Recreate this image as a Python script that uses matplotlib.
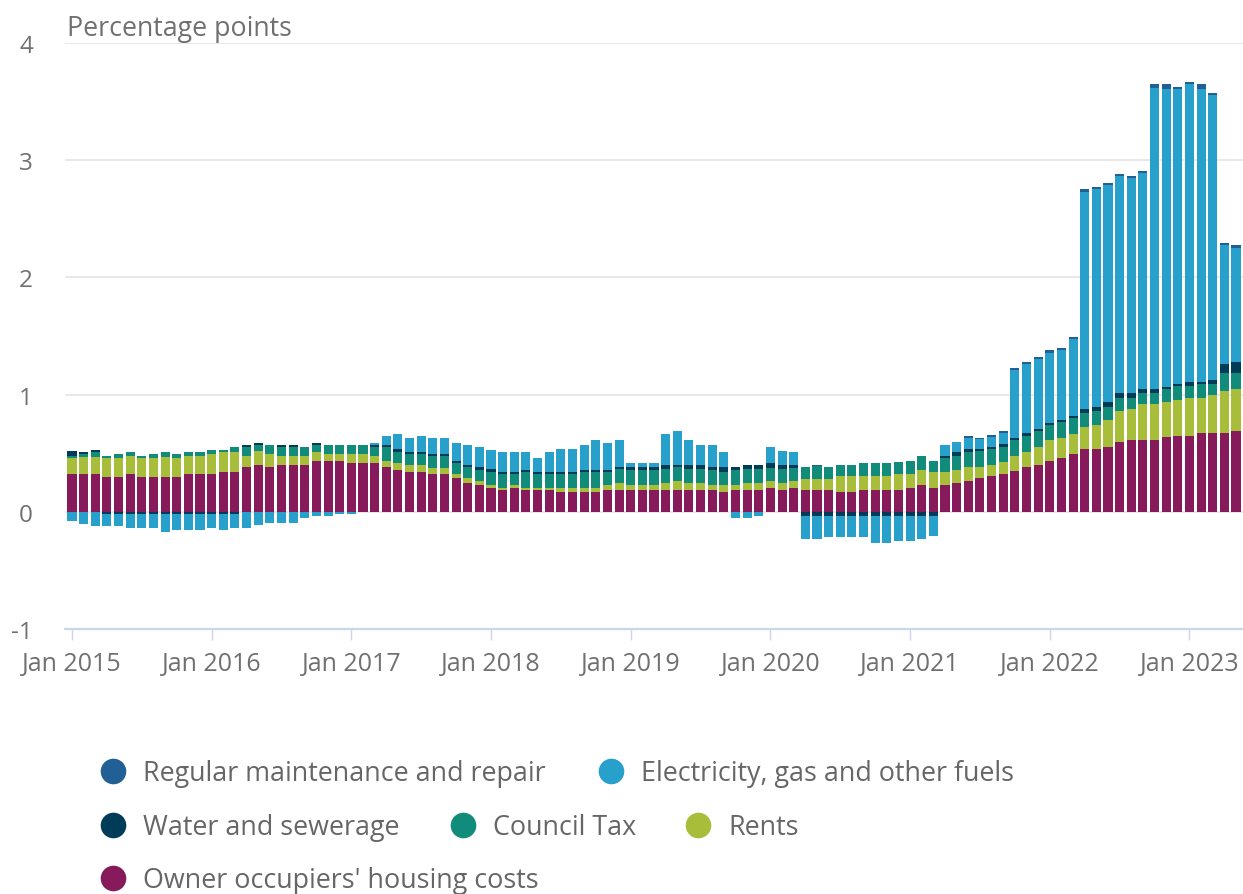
import matplotlib
matplotlib.use("Agg")
import matplotlib.pyplot as plt
import numpy as np

plt.rcParams['font.family'] = ['Open Sans', 'DejaVu Sans']

# ---------------- data (percentage points) ----------------
year_labels = ["Jan 2015", "Jan 2016", "Jan 2017", "Jan 2018", "Jan 2019",
               "Jan 2020", "Jan 2021", "Jan 2022", "Jan 2023"]

owner_occupiers = [
    0.32, 0.32, 0.32, 0.30, 0.30, 0.32, 0.30, 0.30, 0.30, 0.30, 0.32, 0.32,
    0.32, 0.34, 0.34, 0.38, 0.40, 0.38, 0.40, 0.40, 0.40, 0.435, 0.435, 0.435,
    0.42, 0.42, 0.42, 0.38, 0.36, 0.34, 0.34, 0.32, 0.32, 0.285, 0.245, 0.225,
    0.205, 0.19, 0.205, 0.19, 0.19, 0.19, 0.17, 0.17, 0.17, 0.17, 0.19, 0.19,
    0.19, 0.19, 0.19, 0.19, 0.19, 0.19, 0.19, 0.19, 0.17, 0.19, 0.19, 0.19,
    0.205, 0.19, 0.205, 0.19, 0.19, 0.19, 0.17, 0.17, 0.19, 0.19, 0.19, 0.19,
    0.205, 0.225, 0.205, 0.225, 0.245, 0.265, 0.285, 0.305, 0.325, 0.345, 0.38, 0.40,
    0.437, 0.457, 0.497, 0.537, 0.537, 0.557, 0.594, 0.614, 0.614, 0.614, 0.634, 0.65,
    0.65, 0.67, 0.67, 0.67, 0.69]

rents = [
    0.14, 0.15, 0.15, 0.155, 0.155, 0.155, 0.155, 0.155, 0.17, 0.155, 0.155, 0.155,
    0.17, 0.17, 0.17, 0.10, 0.115, 0.115, 0.077, 0.077, 0.077, 0.077, 0.06, 0.06,
    0.077, 0.077, 0.057, 0.057, 0.06, 0.057, 0.057, 0.057, 0.057, 0.037, 0.04, 0.04,
    0.02, 0.017, 0.02, 0.017, 0.017, 0.017, 0.037, 0.037, 0.037, 0.037, 0.037, 0.057,
    0.037, 0.037, 0.037, 0.057, 0.077, 0.057, 0.057, 0.037, 0.057, 0.037, 0.057, 0.057,
    0.057, 0.057, 0.057, 0.094, 0.094, 0.094, 0.134, 0.134, 0.114, 0.114, 0.114, 0.134,
    0.116, 0.134, 0.136, 0.116, 0.114, 0.114, 0.097, 0.097, 0.097, 0.134, 0.134, 0.153,
    0.175, 0.17, 0.17, 0.19, 0.207, 0.224, 0.264, 0.264, 0.304, 0.304, 0.304, 0.304,
    0.324, 0.304, 0.324, 0.36, 0.36]

council_tax = [
    0.02, 0.02, 0.04, 0.017, 0.037, 0.037, 0.017, 0.037, 0.037, 0.037, 0.037, 0.037,
    0.037, 0.02, 0.04, 0.077, 0.057, 0.074, 0.077, 0.077, 0.077, 0.06, 0.074, 0.074,
    0.074, 0.074, 0.077, 0.116, 0.094, 0.097, 0.097, 0.097, 0.097, 0.097, 0.094, 0.094,
    0.116, 0.116, 0.097, 0.133, 0.116, 0.116, 0.116, 0.116, 0.133, 0.136, 0.116, 0.114,
    0.133, 0.133, 0.133, 0.114, 0.114, 0.114, 0.114, 0.133, 0.116, 0.133, 0.114, 0.114,
    0.114, 0.114, 0.114, 0.097, 0.105, 0.097, 0.097, 0.097, 0.116, 0.116, 0.116, 0.097,
    0.114, 0.116, 0.094, 0.114, 0.116, 0.134, 0.134, 0.134, 0.134, 0.134, 0.136, 0.134,
    0.13, 0.136, 0.134, 0.116, 0.116, 0.116, 0.116, 0.097, 0.097, 0.097, 0.11, 0.116,
    0.097, 0.114, 0.094, 0.153, 0.134]

water_sewerage = [
    0.04, 0.02, 0.02, -0.015, -0.015, -0.015, -0.015, -0.015, -0.015, -0.015, -0.015, -0.015,
    -0.015, -0.015, -0.015, 0.017, 0.017, 0.005, 0.017, 0.017, 0.0, 0.017, 0.0, 0.0,
    0.0, 0.0, 0.017, 0.017, 0.02, 0.017, 0.02, 0.02, 0.02, 0.017, 0.02, 0.02,
    0.02, 0.017, 0.017, 0.02, 0.017, 0.017, 0.017, 0.017, 0.02, 0.017, 0.017, 0.02,
    0.02, 0.02, 0.02, 0.04, 0.02, 0.04, 0.04, 0.02, 0.037, 0.02, 0.04, 0.04,
    0.04, 0.04, 0.02, -0.04, -0.04, -0.04, -0.04, -0.04, -0.04, -0.04, -0.04, -0.04,
    -0.037, -0.037, -0.037, 0.02, 0.037, 0.02, 0.02, 0.02, 0.02, 0.02, 0.02, 0.02,
    0.017, 0.017, 0.02, 0.034, 0.037, 0.04, 0.04, 0.04, 0.037, 0.037, 0.017, 0.017,
    0.037, 0.02, 0.04, 0.077, 0.097]

electricity_gas = [
    -0.08, -0.10, -0.12, -0.105, -0.105, -0.12, -0.12, -0.12, -0.16, -0.14, -0.14, -0.14,
    -0.12, -0.14, -0.12, -0.136, -0.116, -0.097, -0.097, -0.097, -0.057, -0.04, -0.04, -0.02,
    -0.02, 0.0, 0.02, 0.08, 0.133, 0.116, 0.133, 0.133, 0.133, 0.153, 0.173, 0.173,
    0.17, 0.173, 0.173, 0.153, 0.116, 0.173, 0.193, 0.193, 0.213, 0.25, 0.23, 0.23,
    0.04, 0.04, 0.04, 0.267, 0.287, 0.21, 0.173, 0.193, 0.133, -0.057, -0.057, -0.04,
    0.133, 0.114, 0.114, -0.193, -0.193, -0.173, -0.173, -0.173, -0.173, -0.227, -0.227, -0.21,
    -0.21, -0.193, -0.173, 0.097, 0.08, 0.1, 0.085, 0.082, 0.1, 0.574, 0.59, 0.594,
    0.6, 0.597, 0.65, 1.855, 1.855, 1.855, 1.852, 1.835, 1.835, 2.56, 2.545, 2.52,
    2.54, 2.5, 2.426, 1.014, 0.974]

regular_maintenance = [
    0.0, 0.0, 0.0, 0.0, 0.0, 0.0, 0.0, 0.0, 0.0, 0.0, 0.0, 0.0,
    0.0, 0.0, 0.0, 0.0, 0.0, 0.0, 0.0, 0.0, 0.0, 0.0, 0.0, 0.0,
    0.0, 0.0, 0.0, 0.0, 0.0, 0.0, 0.0, 0.0, 0.0, 0.0, 0.0, 0.0,
    0.0, 0.0, 0.0, 0.0, 0.0, 0.0, 0.0, 0.0, 0.0, 0.0, 0.0, 0.0,
    0.0, 0.0, 0.0, 0.0, 0.0, 0.0, 0.0, 0.0, 0.0, 0.0, 0.0, 0.0,
    0.0, 0.0, 0.0, 0.0, 0.01, 0.0, 0.0, 0.0, 0.0, 0.0, 0.0, 0.0,
    0.0, 0.0, 0.0, 0.0, 0.0, 0.01, 0.012, 0.017, 0.017, 0.02, 0.02, 0.017,
    0.02, 0.017, 0.02, 0.02, 0.017, 0.017, 0.02, 0.017, 0.017, 0.04, 0.04, 0.02,
    0.02, 0.04, 0.02, 0.02, 0.02]

# stacking order bottom -> top
series = [
    ("Owner occupiers' housing costs", owner_occupiers, "#871a5b"),
    ("Rents", rents, "#a8bd3a"),
    ("Council Tax", council_tax, "#118c7b"),
    ("Water and sewerage", water_sewerage, "#003c57"),
    ("Electricity, gas and other fuels", electricity_gas, "#27a0cc"),
    ("Regular maintenance and repair", regular_maintenance, "#206095"),
]

# ---------------- figure ----------------
W, H = 1243, 895
fig = plt.figure(figsize=(W / 100, H / 100), dpi=100)
ax = fig.add_axes([65 / W, 1 - 630 / H, (W - 65) / W, (630 - 44) / H])

n = len(owner_occupiers)
x = np.arange(n)
pos_base = np.zeros(n)
neg_base = np.zeros(n)
for name, vals, col in series:
    v = np.array(vals, dtype=float)
    pos = np.where(v > 0, v, 0.0)
    neg = np.where(v < 0, v, 0.0)
    ax.bar(x, pos, bottom=pos_base, width=0.78, color=col, linewidth=0, zorder=3)
    ax.bar(x, neg, bottom=neg_base, width=0.78, color=col, linewidth=0, zorder=3)
    pos_base += pos
    neg_base += neg

ax.set_xlim(-0.6, n - 0.4)
ax.set_ylim(-1, 4)
ax.set_yticks([-1, 0, 1, 2, 3, 4])
ax.set_yticklabels(["-1", "0", "1", "2", "3", "4"])
ax.set_xticks(np.arange(0, n, 12))
ax.set_xticklabels(year_labels)

for s in ["top", "right", "left"]:
    ax.spines[s].set_visible(False)
ax.spines["bottom"].set_color("#ccd6eb")
ax.spines["bottom"].set_linewidth(1.6)
ax.spines["bottom"].set_zorder(4)

ax.yaxis.grid(True, color="#e6e6e6", linewidth=1.3, zorder=0)
ax.set_axisbelow(True)
ax.tick_params(axis="y", length=0, pad=23, labelsize=17.5, labelcolor="#707070")
ax.tick_params(axis="x", length=8, width=1.0, color="#ccd6eb", pad=8,
               labelsize=18, labelcolor="#707070")

fig.text(67 / W, 1 - 29 / H, "Percentage points", fontsize=19.3, color="#707070",
         ha="left", va="center")

# ---------------- legend ----------------
lax = fig.add_axes([0, 0, 1, 1])
lax.set_xlim(0, W)
lax.set_ylim(H, 0)
lax.axis("off")
legend_layout = [
    ("Regular maintenance and repair", 113, 772),
    ("Electricity, gas and other fuels", 611, 772),
    ("Water and sewerage", 113, 826),
    ("Council Tax", 463, 826),
    ("Rents", 698, 826),
    ("Owner occupiers' housing costs", 113, 879),
]
colors = {name: col for name, _, col in series}
for name, lx, ly in legend_layout:
    lax.scatter([lx], [ly], s=340, color=colors[name], linewidth=0)
    lax.text(lx + 30, ly + 2, name, fontsize=19.4, color="#666666", ha="left", va="center")

fig.savefig("out.png", dpi=100)
